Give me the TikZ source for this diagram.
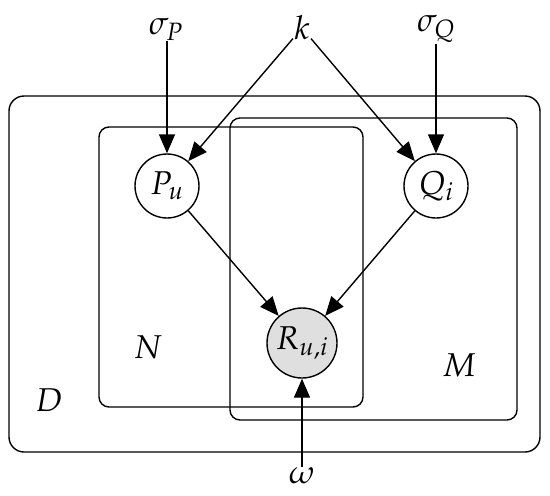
\documentclass[tikz,border=0pt]{standalone}
\usepackage{mathpazo}
\usetikzlibrary{arrows.meta}
\begin{document}
\begin{tikzpicture}[x=1pt,y=-1pt,
  every node/.style={font=\fontsize{33}{36}\selectfont},
  var/.style={circle,draw,line width=1.4pt,minimum size=64pt,inner sep=0pt,fill=white},
  obs/.style={var,minimum size=70pt,fill=gray!25},
  plate/.style={draw,line width=1.4pt,rounded corners=10pt},
  edge/.style={line width=1.4pt,-{Triangle[length=19pt,width=16pt]}},
  lbl/.style={inner sep=1pt}]
\useasboundingbox (0,0) rectangle (550,496);
% plates
\draw[plate,rounded corners=15pt] (9,96) rectangle (540,452);
\draw[plate] (99,127) rectangle (363,407);
\draw[plate] (230,118) rectangle (517,420);
% labels
\node[lbl] (sigP) at (166,29) {$\sigma_P$};
\node[lbl] (k) at (302,28) {$k$};
\node[lbl] (sigQ) at (436,29) {$\sigma_Q$};
\node[lbl] (omega) at (302,476) {$\omega$};
\node[lbl] (N) at (148,347) {$N$};
\node[lbl] (M) at (459,365) {$M$};
\node[lbl] (D) at (49,400) {$D$};
% variables
\node[var] (Pu) at (167,186) {$P_u$};
\node[var] (Qi) at (436,186) {$Q_i$};
\node[obs] (R) at (302,343) {$R_{u,i}$};
% edges
\draw[edge] (sigP.south -| Pu) -- (Pu);
\draw[edge] (sigQ.south -| Qi) -- (Qi);
\draw[edge] (k) -- (Pu);
\draw[edge] (k) -- (Qi);
\draw[edge] (Pu) -- (R);
\draw[edge] (Qi) -- (R);
\draw[edge] (omega.north -| R) -- (R);
\end{tikzpicture}
\end{document}
